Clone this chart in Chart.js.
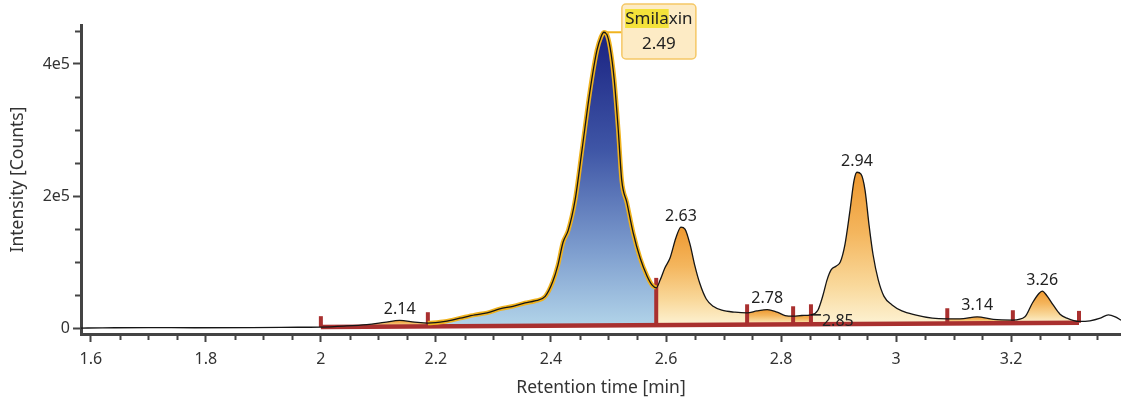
<!DOCTYPE html>
<html>
<head>
<meta charset="utf-8">
<script src="https://cdn.jsdelivr.net/npm/chart.js@4.4.1/dist/chart.umd.min.js"></script>
<style>
  html, body { margin: 0; padding: 0; background: #fff; }
  #wrap { width: 1121px; height: 408px; }
</style>
</head>
<body>
<div id="wrap"><canvas id="chrom"></canvas></div>
<script>
// --- chromatogram trace (min, counts) ---
const retentionTimes = [
  1.583, 1.62, 1.70, 1.78, 1.88, 1.96, 2.0, 2.04, 2.08, 2.11, 2.137, 2.163, 2.186,
  2.216, 2.242, 2.268, 2.289, 2.311, 2.334, 2.355, 2.372, 2.39, 2.403, 2.412, 2.421,
  2.43, 2.442, 2.454, 2.468, 2.48, 2.487, 2.492, 2.497, 2.503, 2.51, 2.517, 2.523,
  2.532, 2.543, 2.555, 2.567, 2.576, 2.583, 2.59, 2.598, 2.607, 2.617, 2.626, 2.633,
  2.642, 2.65, 2.659, 2.67, 2.682, 2.697, 2.72, 2.741, 2.758, 2.776, 2.793, 2.807,
  2.821, 2.836, 2.852, 2.864, 2.873, 2.88, 2.887, 2.896, 2.903, 2.911, 2.92, 2.927,
  2.932, 2.939, 2.946, 2.953, 2.96, 2.969, 2.979, 2.993, 3.01, 3.033, 3.063, 3.089,
  3.111, 3.141, 3.169, 3.203, 3.224, 3.237, 3.248, 3.254, 3.263, 3.273, 3.285, 3.297,
  3.318, 3.337, 3.355, 3.369, 3.381, 3.391
];
const intensities = [
  0, 300, 800, 500, 600, 1200, 1500, 3000, 5300, 8500, 11500, 9000, 7500,
  10000, 15000, 20000, 23000, 29000, 33000, 38000, 41000, 48000, 70000, 95000, 130000,
  148000, 194000, 270000, 360000, 421000, 441000, 448000, 445000, 424000, 376000, 300000, 224000,
  190000, 144000, 106000, 79000, 65000, 61000, 73000, 91000, 106000, 136000, 153000, 150000,
  126000, 95000, 67000, 44000, 33000, 27000, 24000, 23000, 26000, 28000, 24000, 19000,
  18000, 19000, 20000, 27000, 50000, 73000, 88000, 94000, 100000, 126000, 179000, 224000,
  236000, 233000, 209000, 156000, 111000, 73000, 48000, 35000, 26000, 20000, 15000, 14000,
  14000, 17000, 13000, 12000, 17000, 38000, 52000, 56000, 48000, 35000, 21000, 15000,
  10000, 11000, 15000, 20000, 17000, 12000
];

// integration: peak borders, fill kind, baseline
const peakBounds = [2.0, 2.186, 2.583, 2.741, 2.821, 2.852, 3.089, 3.203, 3.318];
const peakFills = ['orange', 'blue', 'orange', 'orange', 'orange', 'orange', 'orange', 'orange'];
const baselineTimes = [2.0, 3.318];
const baselineCounts = [1500, 8000];
const markerTops = [18000, 24000, 76000, 36000, 33000, 36000, 30000, 27000, 26000];
const markerBases = [1500, 2400, 4400, 5200, 5500, 5700, 6900, 7400, 8000];

// peak labels
const peakLabelText = ['2.14', '2.63', '2.78', '2.94', '3.14', '3.26'];
const peakLabelTime = [2.137, 2.626, 2.776, 2.932, 3.141, 3.254];
const peakLabelCounts = [11500, 153000, 28000, 236000, 17000, 56000];
const leaderLabel = { text: '2.85', time: 2.852, counts: 20000 };
const namedPeak = { name: 'Smilaxin', highlight: 'Smila', rt: '2.49', time: 2.492, counts: 448000 };

// axes
const xTickValues = [1.6, 1.8, 2, 2.2, 2.4, 2.6, 2.8, 3, 3.2];
const xTickLabels = ['1.6', '1.8', '2', '2.2', '2.4', '2.6', '2.8', '3', '3.2'];
const xMinorValues = [1.65, 1.7, 1.75, 1.85, 1.9, 1.95, 2.05, 2.1, 2.15, 2.25, 2.3, 2.35,
  2.45, 2.5, 2.55, 2.65, 2.7, 2.75, 2.85, 2.9, 2.95, 3.05, 3.1, 3.15, 3.25, 3.3, 3.35];
const yTickValues = [0, 200000, 400000];
const yTickLabels = ['0', '2e5', '4e5'];
const yMinorValues = [50000, 100000, 150000, 250000, 300000, 350000, 450000];

const FONT = '"Noto Sans", "Open Sans", sans-serif';
const RED = '#a9302f';
const gradientStops = {
  blue: [[0, '#1a2281'], [0.4, '#3f56a6'], [0.75, '#7f9fcf'], [1, '#b2d4e9']],
  orange: [[0, '#ee982f'], [0.4, '#f4b65e'], [0.75, '#f9d99c'], [1, '#fdf2d3']]
};

const tracePoints = retentionTimes.map((t, i) => ({ x: t, y: intensities[i] }));
const inRange = (a, b) => tracePoints.filter(p => p.x >= a - 1e-9 && p.x <= b + 1e-9);

const datasets = [];
datasets.push({ // 0 trace
  data: tracePoints, borderColor: '#151515', borderWidth: 1.3, pointRadius: 0,
  cubicInterpolationMode: 'monotone', fill: false, order: 0
});
datasets.push({ // 1 gold outline of the named peak
  data: inRange(peakBounds[1], peakBounds[2]), borderColor: '#f0b31e', borderWidth: 4.5,
  pointRadius: 0, cubicInterpolationMode: 'monotone', fill: false, order: 1
});
peakBounds.forEach((t, i) => {
  datasets.push({
    data: [{ x: t, y: markerBases[i] }, { x: t, y: markerTops[i] }],
    borderColor: RED, borderWidth: 4, pointRadius: 0, fill: false, order: 2
  });
});
const baselineIndex = datasets.length;
datasets.push({
  data: baselineTimes.map((t, i) => ({ x: t, y: baselineCounts[i] })),
  borderColor: RED, borderWidth: 4.5, pointRadius: 0, fill: false, order: 3
});
peakFills.forEach((kind, i) => {
  const pts = inRange(peakBounds[i], peakBounds[i + 1]);
  const top = Math.max(...pts.map(p => p.y));
  const base = markerBases[i];
  datasets.push({
    data: pts, borderWidth: 0, pointRadius: 0, cubicInterpolationMode: 'monotone',
    fill: { target: baselineIndex }, order: 4,
    backgroundColor: (c) => {
      const ch = c.chart;
      if (!ch.chartArea) return 'rgba(0,0,0,0)';
      const y0 = ch.scales.y.getPixelForValue(top);
      const y1 = ch.scales.y.getPixelForValue(base);
      const g = ch.ctx.createLinearGradient(0, y0, 0, y1);
      gradientStops[kind].forEach(s => g.addColorStop(s[0], s[1]));
      return g;
    }
  });
});

// minor ticks, peak labels and the named peak box
const annotate = {
  id: 'annotate',
  afterDraw(chart) {
    const { ctx, chartArea: area, scales: { x, y } } = chart;
    ctx.save();
    ctx.strokeStyle = '#444';
    ctx.lineWidth = 2;
    xMinorValues.forEach(v => {
      const px = Math.round(x.getPixelForValue(v)) + 0.5;
      ctx.beginPath(); ctx.moveTo(px, area.bottom + 1); ctx.lineTo(px, area.bottom + 6); ctx.stroke();
    });
    yMinorValues.forEach(v => {
      const py = Math.round(y.getPixelForValue(v)) + 0.5;
      ctx.beginPath(); ctx.moveTo(area.left - 1, py); ctx.lineTo(area.left - 6, py); ctx.stroke();
    });

    ctx.font = '16px ' + FONT;
    ctx.fillStyle = '#222';
    ctx.textAlign = 'center';
    ctx.textBaseline = 'bottom';
    peakLabelText.forEach((txt, i) => {
      ctx.fillText(txt, x.getPixelForValue(peakLabelTime[i]), y.getPixelForValue(peakLabelCounts[i]) - 3);
    });

    // 2.85 with leader
    const lx = x.getPixelForValue(leaderLabel.time);
    const ly = y.getPixelForValue(leaderLabel.counts);
    ctx.strokeStyle = '#111'; ctx.lineWidth = 1.5;
    ctx.beginPath(); ctx.moveTo(lx, ly); ctx.lineTo(lx + 10, ly); ctx.stroke();
    ctx.textAlign = 'left'; ctx.textBaseline = 'middle';
    ctx.fillText(leaderLabel.text, lx + 11, ly + 7);

    // Smilaxin box
    const px = x.getPixelForValue(namedPeak.time);
    const py = y.getPixelForValue(namedPeak.counts);
    ctx.strokeStyle = '#f0b31e'; ctx.lineWidth = 2;
    ctx.beginPath(); ctx.moveTo(px + 2, py); ctx.lineTo(px + 18, py); ctx.stroke();
    const bx = px + 18, by = 4, bw = 74, bh = 55;
    ctx.beginPath();
    ctx.roundRect(bx, by, bw, bh, 4);
    ctx.fillStyle = '#fdebc5';
    ctx.fill();
    ctx.strokeStyle = '#f5c866'; ctx.lineWidth = 1.5;
    ctx.stroke();
    ctx.font = '17px ' + FONT;
    const cx = bx + bw / 2;
    const w = ctx.measureText(namedPeak.name).width;
    const hw = ctx.measureText(namedPeak.highlight).width;
    ctx.fillStyle = '#f4e23a';
    ctx.fillRect(cx - w / 2, by + 5, hw, 19);
    ctx.fillStyle = '#222';
    ctx.textAlign = 'center';
    ctx.fillText(namedPeak.name, cx, by + 15);
    ctx.fillText(namedPeak.rt, cx, by + 40);
    ctx.restore();
  }
};

new Chart(document.getElementById('chrom'), {
  type: 'line',
  data: { datasets },
  options: {
    responsive: true,
    maintainAspectRatio: false,
    animation: false,
    devicePixelRatio: 1,
    layout: { padding: { top: 25, right: 0, left: 0, bottom: 0 } },
    plugins: { legend: { display: false }, tooltip: { enabled: false } },
    scales: {
      x: {
        type: 'linear', min: 1.583, max: 3.391,
        afterBuildTicks: s => { s.ticks = xTickValues.map(v => ({ value: v })); },
        afterFit: s => { s.height = 74; },
        ticks: {
          color: '#333', font: { family: FONT, size: 16 }, padding: 8, maxRotation: 0, autoSkip: false,
          callback: (v) => xTickLabels[xTickValues.indexOf(v)]
        },
        grid: { display: true, drawOnChartArea: false, drawTicks: true, tickLength: 8, tickColor: '#444', tickWidth: 2 },
        border: { display: true, color: '#444', width: 3 },
        title: { display: true, text: 'Retention time [min]', color: '#333', font: { family: FONT, size: 17.5 }, padding: { top: 0, bottom: 9 } }
      },
      y: {
        type: 'linear', min: -9000, max: 459000,
        afterBuildTicks: s => { s.ticks = yTickValues.map(v => ({ value: v })); },
        afterFit: s => { s.width = 81; },
        ticks: {
          color: '#333', font: { family: FONT, size: 16 }, padding: 3,
          callback: (v) => yTickLabels[yTickValues.indexOf(v)]
        },
        grid: { display: true, drawOnChartArea: false, drawTicks: true, tickLength: 8, tickColor: '#444', tickWidth: 2 },
        border: { display: true, color: '#444', width: 3 },
        title: { display: true, text: 'Intensity [Counts]', color: '#333', font: { family: FONT, size: 17.5 }, padding: { top: 8, bottom: 0 } }
      }
    }
  },
  plugins: [annotate]
});
</script>
</body>
</html>
